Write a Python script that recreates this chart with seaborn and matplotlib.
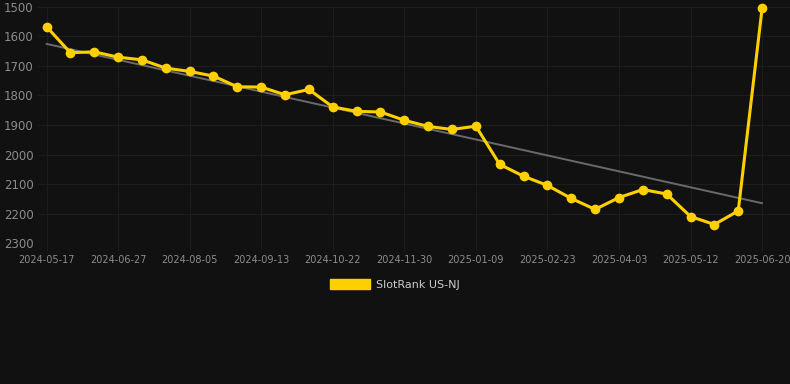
import numpy as np
import pandas as pd
import matplotlib
matplotlib.use("Agg")
import matplotlib.pyplot as plt
from matplotlib.patches import Patch
import seaborn as sns

# rank values, one point roughly every two weeks (category axis)
ranks = [1568, 1656, 1653, 1671, 1680, 1708, 1719, 1735, 1771, 1772,
         1798, 1780, 1839, 1854, 1856, 1884, 1905, 1915, 1904, 2033,
         2073, 2104, 2148, 2185, 2145, 2118, 2133, 2209, 2236, 2190,
         1506]
tick_labels = ["2024-05-17", "2024-06-27", "2024-08-05", "2024-09-13",
               "2024-10-22", "2024-11-30", "2025-01-09", "2025-02-23",
               "2025-04-03", "2025-05-12", "2025-06-20"]
y_ticks = [1500, 1600, 1700, 1800, 1900, 2000, 2100, 2200, 2300]
series_name = "SlotRank US-NJ"

BG = "#111111"
GRID = "#1d1d1d"
YELLOW = "#FFD000"

df = pd.DataFrame({"idx": np.arange(len(ranks)), "rank": ranks})

sns.set_theme(style="dark", rc={
    "figure.facecolor": BG,
    "axes.facecolor": BG,
    "axes.edgecolor": BG,
    "grid.color": GRID,
})

fig = plt.figure(figsize=(7.9, 3.84), dpi=100)
ax = fig.add_axes([0.048, 0.366, 0.952, 0.617])

# linear trend of the rank series
coef = np.polyfit(df["idx"], df["rank"], 1)
ax.plot(df["idx"], np.polyval(coef, df["idx"]), color="#6a6a6a", lw=1.4, zorder=2)

sns.lineplot(data=df, x="idx", y="rank", ax=ax, color=YELLOW, lw=2.2,
             marker="o", markersize=7, markeredgewidth=0, zorder=3, clip_on=False)

ax.set_ylim(2300, 1500)
ax.set_xlim(-0.36, 31.17)
ax.set_yticks(y_ticks)
ax.set_xticks(df["idx"][::3])
ax.set_xticklabels(tick_labels)
ax.grid(True, color=GRID, lw=0.8)
ax.set_xlabel("")
ax.set_ylabel("")
ax.tick_params(axis="y", colors="#8c8c8c", labelsize=8.5, length=0, pad=3)
ax.tick_params(axis="x", colors=GRID, labelcolor="#8c8c8c", labelsize=7,
               length=6, width=0.8, pad=2, bottom=True)
ax.axhline(2300, color="#2a2a2a", lw=0.8, zorder=1)
for s in ax.spines.values():
    s.set_visible(False)

handle = Patch(facecolor=YELLOW, edgecolor=YELLOW)
leg = fig.legend([handle], [series_name], loc="center", bbox_to_anchor=(0.5, 0.26),
                 frameon=False, fontsize=8, handlelength=3.6, handleheight=1.05,
                 handletextpad=0.6)
for t in leg.get_texts():
    t.set_color("#cccccc")

fig.savefig("out.png", dpi=100, facecolor=BG)
